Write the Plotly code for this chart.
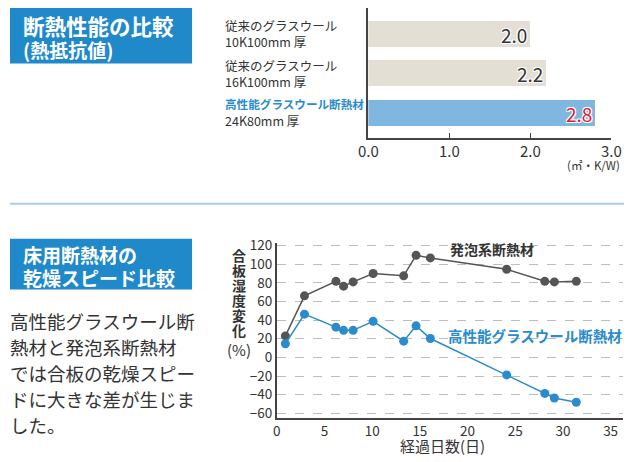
import plotly.graph_objects as go

W, H = 634, 462
FONT = "Noto Sans CJK JP"

# --- Top chart data (thermal resistance) ---
bar_categories = ["10K100mm", "16K100mm", "24K80mm"]
bar_label_line1 = ["従来のグラスウール", "従来のグラスウール", "高性能グラスウール断熱材"]
bar_label_line2 = ["10K100mm 厚", "16K100mm 厚", "24K80mm 厚"]
bar_values = [2.0, 2.2, 2.8]
bar_text = ["2.0", "2.2", "2.8"]
x1_ticks = [0, 1, 2, 3]
x1_ticktext = ["0.0", "1.0", "2.0", "3.0"]

# --- Bottom chart data (plywood moisture change) ---
days = [0.9, 2.9, 6.2, 7.0, 8.0, 10.1, 13.3, 14.6, 16.1, 24.1, 28.1, 29.1, 31.4]
foam = [23, 66, 81.6, 76.4, 81, 90, 87.5, 109.5, 106.7, 94.5, 81.6, 81, 81.6]
glasswool = [14.6, 46.4, 32.4, 29, 29, 38.7, 17.4, 33.8, 20.2, -18.8, -38.7, -43.6, -48.1]
y2_ticks = [120, 100, 80, 60, 40, 20, 0, -20, -40, -60]
x2_ticks = [0, 5, 10, 15, 20, 25, 30, 35]

BLUE_HDR = "#2089c9"
BLUE = "#2a8ccc"
TXT = "#333333"

def py(p):
    return 1 - p / H

def px(p):
    return p / W

fig = go.Figure()

bar_colors = ["#e4dfd5", "#e4dfd5", "#80b7e0"]
txt_colors = [TXT, TXT, "#e0182d"]
fig.add_trace(go.Bar(
    x=bar_values, y=bar_categories, orientation="h",
    marker=dict(color=bar_colors, line=dict(width=0)),
    width=0.667,
    text=bar_text, textposition="inside", insidetextanchor="end",
    textangle=0, constraintext="none",
    textfont=dict(family=FONT, size=19, color=txt_colors,
                  shadow="1px 1px 0 #fff, -1px -1px 0 #fff, 1px -1px 0 #fff, -1px 1px 0 #fff"),
    xaxis="x", yaxis="y", hoverinfo="skip", showlegend=False,
))

fig.add_trace(go.Scatter(
    x=days, y=foam, mode="lines+markers",
    line=dict(color="#555555", width=1.5),
    marker=dict(color="#555555", size=9),
    xaxis="x2", yaxis="y2", showlegend=False,
))
fig.add_trace(go.Scatter(
    x=days, y=glasswool, mode="lines+markers",
    line=dict(color=BLUE, width=1.5),
    marker=dict(color=BLUE, size=9),
    xaxis="x2", yaxis="y2", showlegend=False,
))

ann = []
# top bar labels
for i in range(3):
    cy = [26.5, 67.5, 107.5][i]
    if i == 2:
        l1 = f"<b>{bar_label_line1[i]}</b>"
        c1 = BLUE
        s1 = 11.6
    else:
        l1 = bar_label_line1[i]
        c1 = TXT
        s1 = 12.5
    ann.append(dict(x=px(220), y=py(cy - 8.5), xref="paper", yref="paper", xanchor="left",
                    yanchor="middle", showarrow=False, text=l1,
                    font=dict(family=FONT, size=s1, color=c1)))
    ann.append(dict(x=px(220), y=py(cy + 7.5), xref="paper", yref="paper", xanchor="left",
                    yanchor="middle", showarrow=False, text=bar_label_line2[i],
                    font=dict(family=FONT, size=12.5, color=TXT)))
ann.append(dict(x=px(632), y=py(161), xref="paper", yref="paper", xanchor="right", yanchor="middle",
                showarrow=False, text="(㎡・K/W)", font=dict(family=FONT, size=11.5, color=TXT)))

# header boxes text
ann.append(dict(x=px(11), y=py(18), xref="paper", yref="paper", xanchor="left", yanchor="middle",
                showarrow=False, text="<b>断熱性能の比較</b>", font=dict(family=FONT, size=21.5, color="white")))
ann.append(dict(x=px(11), y=py(43), xref="paper", yref="paper", xanchor="left", yanchor="middle",
                showarrow=False, text="<b>(熱抵抗値)</b>", font=dict(family=FONT, size=19, color="white")))
ann.append(dict(x=px(11), y=py(253), xref="paper", yref="paper", xanchor="left", yanchor="middle",
                showarrow=False, text="<b>床用断熱材の</b>", font=dict(family=FONT, size=19, color="white")))
ann.append(dict(x=px(11), y=py(277), xref="paper", yref="paper", xanchor="left", yanchor="middle",
                showarrow=False, text="<b>乾燥スピード比較</b>", font=dict(family=FONT, size=19, color="white")))

body = ["高性能グラスウール断", "熱材と発泡系断熱材", "では合板の乾燥スピー", "ドに大きな差が生じま", "した。"]
for i, line in enumerate(body):
    ann.append(dict(x=px(-2), y=py(321 + i * 26.8), xref="paper", yref="paper", xanchor="left", yanchor="middle",
                    showarrow=False, text=line, font=dict(family=FONT, size=18.5, color=TXT)))

# y axis title stacked
ychars = ["合", "板", "湿", "度", "変", "化"]
for i, ch in enumerate(ychars):
    ann.append(dict(x=px(236), y=py(254 + i * 15.3), xref="paper", yref="paper", xanchor="center",
                    yanchor="middle", showarrow=False, text=f"<b>{ch}</b>", borderpad=0,
                    font=dict(family=FONT, size=14, color=TXT)))
ann.append(dict(x=px(236), y=py(351), xref="paper", yref="paper", xanchor="center", yanchor="middle",
                showarrow=False, text="(%)", font=dict(family=FONT, size=15, color=TXT)))
ann.append(dict(x=px(447), y=py(449), xref="paper", yref="paper", xanchor="center", yanchor="middle",
                showarrow=False, text="経過日数(日)", font=dict(family=FONT, size=15, color=TXT)))

# series labels
ann.append(dict(x=px(498), y=py(247), xref="paper", yref="paper", xanchor="center", yanchor="middle",
                showarrow=False, text="<b>発泡系断熱材</b>", font=dict(family=FONT, size=14, color=TXT)))
ann.append(dict(x=px(542), y=py(336), xref="paper", yref="paper", xanchor="center", yanchor="middle",
                showarrow=False, text="<b>高性能グラスウール断熱材</b>", font=dict(family=FONT, size=14.5, color=BLUE)))

shapes = [
    dict(type="rect", xref="paper", yref="paper", x0=0, x1=px(188), y0=py(57), y1=py(0),
         fillcolor=BLUE_HDR, line=dict(width=0), layer="below"),
    dict(type="rect", xref="paper", yref="paper", x0=0, x1=px(188), y0=py(289), y1=py(237),
         fillcolor=BLUE_HDR, line=dict(width=0), layer="below"),
    dict(type="line", xref="paper", yref="paper", x0=0, x1=1, y0=py(201), y1=py(201),
         line=dict(color="#a9cde8", width=2)),
]

fig.update_layout(
    width=W, height=H,
    margin=dict(l=0, r=0, t=0, b=0),
    paper_bgcolor="white", plot_bgcolor="white",
    font=dict(family=FONT, color=TXT),
    bargap=0,
    xaxis=dict(domain=[px(370), px(621)], range=[0, 3], anchor="y",
               tickvals=x1_ticks, ticktext=x1_ticktext, ticks="inside", ticklen=5,
               tickcolor="#444", showline=True, linecolor="#444", linewidth=1.5,
               showgrid=False, zeroline=False, tickfont=dict(family=FONT, size=15, color=TXT)),
    yaxis=dict(domain=[py(133), 1], anchor="x", type="category",
               categoryorder="array", categoryarray=bar_categories,
               range=[2.63, -0.654], showticklabels=False, ticks="",
               showline=True, linecolor="#444", linewidth=1.5, showgrid=False, zeroline=False),
    xaxis2=dict(domain=[px(275.5), px(633)], range=[0, 36.3], anchor="y2",
                tickvals=x2_ticks, ticks="", showline=True, linecolor="#444", linewidth=1.5,
                showgrid=False, zeroline=False, tickfont=dict(family=FONT, size=13.5, color=TXT)),
    yaxis2=dict(domain=[py(420.5), py(241)], range=[-64.6, 123], anchor="x2",
                tickvals=y2_ticks, ticks="", showline=True, linecolor="#444", linewidth=1.5,
                showgrid=True, gridcolor="#bdbdbd", griddash="dash", gridwidth=1,
                zeroline=False, tickfont=dict(family=FONT, size=13.5, color=TXT)),
    annotations=ann, shapes=shapes,
)

fig.write_html(
    "out.html",
    config={"displayModeBar": False},
    post_script="document.body.style.margin='0';document.body.style.overflow='hidden';",
)
